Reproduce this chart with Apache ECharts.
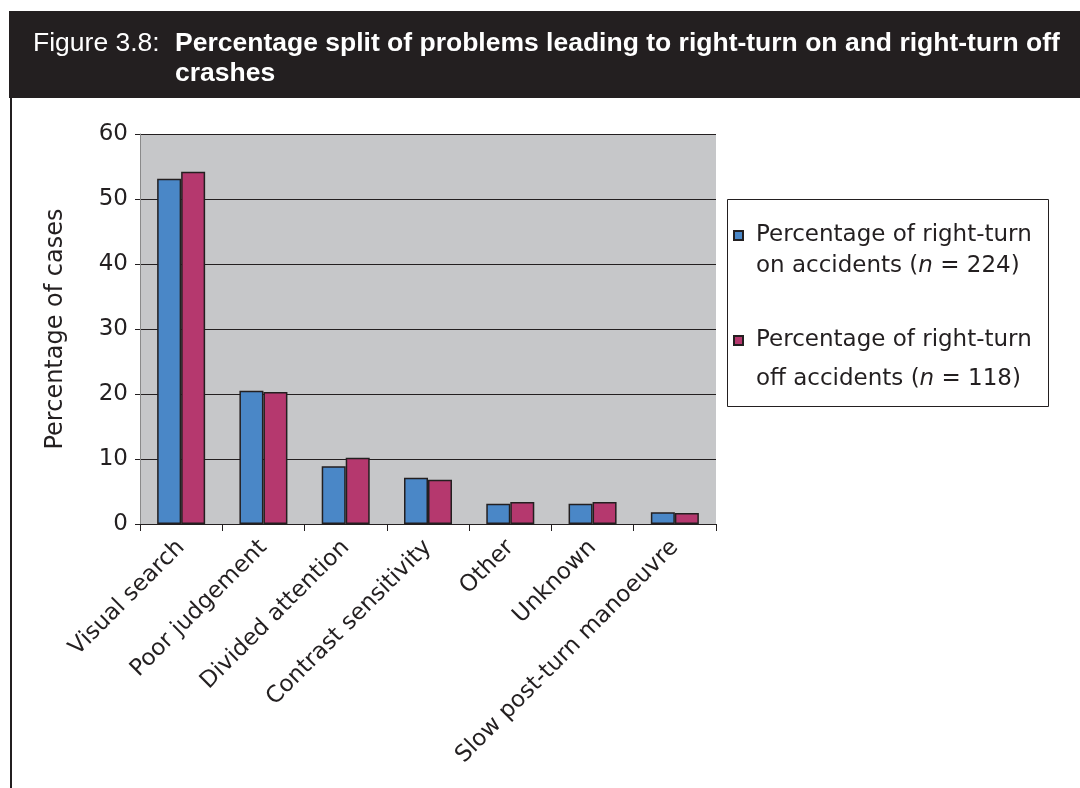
<!DOCTYPE html>
<html>
<head>
<meta charset="utf-8">
<script src="https://cdn.jsdelivr.net/npm/echarts@6/dist/echarts.min.js"></script>
<style>
html,body{margin:0;padding:0;background:#fff;}
#c{width:1080px;height:788px;}
</style>
</head>
<body>
<div id="c"></div>
<script>
var categories = ['Visual search','Poor judgement','Divided attention','Contrast sensitivity','Other','Unknown','Slow post-turn manoeuvre'];
var rightTurnOn = [53.1, 20.5, 8.9, 7.1, 3.1, 3.1, 1.8];
var rightTurnOff = [54.2, 20.3, 10.2, 6.8, 3.4, 3.4, 1.7];
var yTicks = [0, 10, 20, 30, 40, 50, 60];
var seriesNames = ['Percentage of right-turn on accidents (n = 224)', 'Percentage of right-turn off accidents (n = 118)'];
var titleLabel = 'Figure 3.8:';
var titleLine1 = 'Percentage split of problems leading to right-turn on and right-turn off';
var titleLine2 = 'crashes';
var yAxisName = 'Percentage of cases';

var FONT = 'DejaVu Sans';
var TFONT = '"Liberation Sans", Arial, sans-serif';
var chart = echarts.init(document.getElementById('c'), null, {renderer:'canvas'});

function legendFmt(name){
  if (name === seriesNames[0]) {
    return '{b1| }\n{s| }{a1|Percentage of right-turn}\n{s| }{a1|on accidents (}{i1|n}{a1| = 224)}';
  }
  return '{b2| }\n{s| }{a2|Percentage of right-turn}\n{s| }{a2|off accidents (}{i2|n}{a2| = 118)}';
}

var option = {
  animation: false,
  graphic: [
    {type:'rect', left:9, top:11, shape:{width:1071, height:87}, style:{fill:'#231f20'}, z:1},
    {type:'rect', left:10, top:98, shape:{width:2, height:690}, style:{fill:'#231f20'}, z:1},
    {type:'text', x:33, y:44, style:{text:titleLabel, fill:'#ffffff', font:'normal 26.5px ' + TFONT, verticalAlign:'middle'}, z:2},
    {type:'text', x:175, y:44, style:{text:titleLine1, fill:'#ffffff', font:'bold 26.5px ' + TFONT, verticalAlign:'middle'}, z:2},
    {type:'text', x:175, y:74, style:{text:titleLine2, fill:'#ffffff', font:'bold 26.5px ' + TFONT, verticalAlign:'middle'}, z:2},
    {type:'rect', left:727, top:199, shape:{width:321, height:207}, style:{fill:'#ffffff', stroke:'#231f20', lineWidth:1}, z:1}
  ],
  grid: {left:140, top:134, right:364, bottom:264, show:true, backgroundColor:'#c6c7c9', borderWidth:0},
  legend: {
    orient:'vertical', left:733, top:193, itemWidth:9, itemHeight:9, itemGap:12,
    icon:'rect', padding:0, z:5,
    data: seriesNames,
    formatter: legendFmt,
    textStyle: {
      fontFamily: FONT, fontSize: 23, color:'#231f20',
      rich: {
        s:{width:8, fontSize:23, fontFamily:FONT},
        b1:{fontSize:23, lineHeight:31, fontFamily:FONT},
        a1:{fontSize:23, lineHeight:31, fontFamily:FONT, color:'#231f20'},
        i1:{fontSize:23, lineHeight:31, fontFamily:FONT, fontStyle:'italic', color:'#231f20'},
        b2:{fontSize:23, lineHeight:39, fontFamily:FONT},
        a2:{fontSize:23, lineHeight:39, fontFamily:FONT, color:'#231f20'},
        i2:{fontSize:23, lineHeight:39, fontFamily:FONT, fontStyle:'italic', color:'#231f20'}
      }
    }
  },
  xAxis: {
    type:'category', data: categories,
    axisLine:{show:true, lineStyle:{color:'#231f20', width:1}},
    axisTick:{show:true, length:7, lineStyle:{color:'#231f20'}},
    axisLabel:{rotate:45, margin:20, fontFamily:FONT, fontSize:23, color:'#231f20', interval:0}
  },
  yAxis: {
    type:'value', min:0, max:60, interval:10,
    name: yAxisName, nameLocation:'middle', nameGap:72, nameRotate:90,
    nameTextStyle:{fontFamily:FONT, fontSize:24, color:'#231f20'},
    axisLine:{show:true, lineStyle:{color:'#8a8a8a', width:1}},
    axisTick:{show:true, length:5, lineStyle:{color:'#231f20'}},
    axisLabel:{fontFamily:FONT, fontSize:23, color:'#231f20', margin:12,
      formatter:function(v){ return yTicks.indexOf(v) >= 0 ? String(v) : ''; }},
    splitLine:{show:true, lineStyle:{color:'#231f20', width:1}}
  },
  series: [
    {name: seriesNames[0], type:'bar', data: rightTurnOn, barWidth:24, barGap:'0%',
     itemStyle:{color:'#4a87c7', borderColor:'#231f20', borderWidth:1.5}},
    {name: seriesNames[1], type:'bar', data: rightTurnOff, barWidth:24, barGap:'0%',
     itemStyle:{color:'#b5386e', borderColor:'#231f20', borderWidth:1.5}}
  ]
};
chart.setOption(option);
</script>
</body>
</html>
